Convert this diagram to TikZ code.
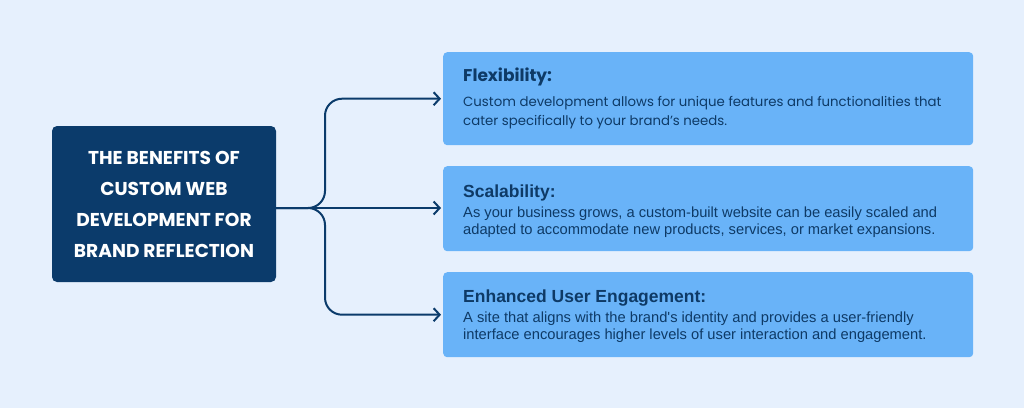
\documentclass[tikz,border=0pt]{standalone}
\usepackage{fontspec}
\setmainfont{Poppins}
\newfontfamily\plainsans{Liberation Sans}
\usetikzlibrary{arrows.meta,positioning}

\definecolor{pagebg}{HTML}{E6F0FD}
\definecolor{navy}{HTML}{0B3B6B}
\definecolor{cardblue}{HTML}{69B3F8}
\definecolor{inknavy}{HTML}{0E3A66}

\tikzset{
  titlebox/.style={fill=navy, rounded corners=5pt, minimum width=224pt, minimum height=156pt,
    inner sep=0pt, align=center, text=white, font=\fontsize{18.6}{31}\selectfont\bfseries},
  card/.style={fill=cardblue, rounded corners=4pt, minimum width=530pt, anchor=north west, inner sep=0pt},
  cardhead/.style={anchor=base west, inner sep=0pt, text=inknavy},
  cardtext/.style={anchor=base west, inner sep=0pt, text=inknavy},
  link/.style={draw=navy, line width=2pt, -{Straight Barb[length=6pt,width=13pt]}, shorten >=2pt}
}

\begin{document}
\begin{tikzpicture}[x=1pt,y=-1pt]
  \useasboundingbox (0,0) rectangle (1024,408);
  \fill[pagebg] (0,0) rectangle (1024,408);

  % Title box
  \node[titlebox] (title) at (164,204) {THE BENEFITS OF\\CUSTOM WEB\\DEVELOPMENT FOR\\BRAND REFLECTION};

  % Flexibility card
  \node[card, minimum height=93pt] (flex) at (443,52) {};
  \node[cardhead, font=\fontsize{17}{20}\selectfont\bfseries] (flexhead)
    at ([xshift=20pt,yshift=-29pt]flex.north west) {Flexibility:};
  \node[cardtext] (flexbody) at ([xshift=20pt,yshift=-54pt]flex.north west)
    {\parbox[t]{505pt}{\raggedright\fontsize{13.3}{19}\selectfont
      Custom development allows for unique features and functionalities that\\
      cater specifically to your brand's needs.}};

  % Scalability card
  \node[card, minimum height=85pt] (scal) at (443,166) {};
  \node[cardhead, font=\plainsans\fontsize{17.5}{20}\selectfont\bfseries] (scalhead)
    at ([xshift=20pt,yshift=-31pt]scal.north west) {Scalability:};
  \node[cardtext] (scalbody) at ([xshift=20pt,yshift=-51pt]scal.north west)
    {\parbox[t]{505pt}{\raggedright\plainsans\fontsize{14.7}{17}\selectfont
      As your business grows, a custom-built website can be easily scaled and\\
      adapted to accommodate new products, services, or market expansions.}};

  % Engagement card
  \node[card, minimum height=85pt] (engage) at (443,272) {};
  \node[cardhead, font=\plainsans\fontsize{17.5}{20}\selectfont\bfseries] (engagehead)
    at ([xshift=20pt,yshift=-30pt]engage.north west) {Enhanced User Engagement:};
  \node[cardtext] (engagebody) at ([xshift=20pt,yshift=-50pt]engage.north west)
    {\parbox[t]{505pt}{\raggedright\plainsans\fontsize{14.7}{17}\selectfont
      A site that aligns with the brand's identity and provides a user-friendly\\
      interface encourages higher levels of user interaction and engagement.}};

  % Connectors
  \coordinate (fork) at (325,208);
  \draw[link] (title.east |- fork) -- (fork -| scal.west);
  \draw[link, rounded corners=17pt] (title.east |- fork) -- (fork) |- (flex.west);
  \draw[link, rounded corners=17pt] (title.east |- fork) -- (fork) |- (engage.west);
\end{tikzpicture}
\end{document}
